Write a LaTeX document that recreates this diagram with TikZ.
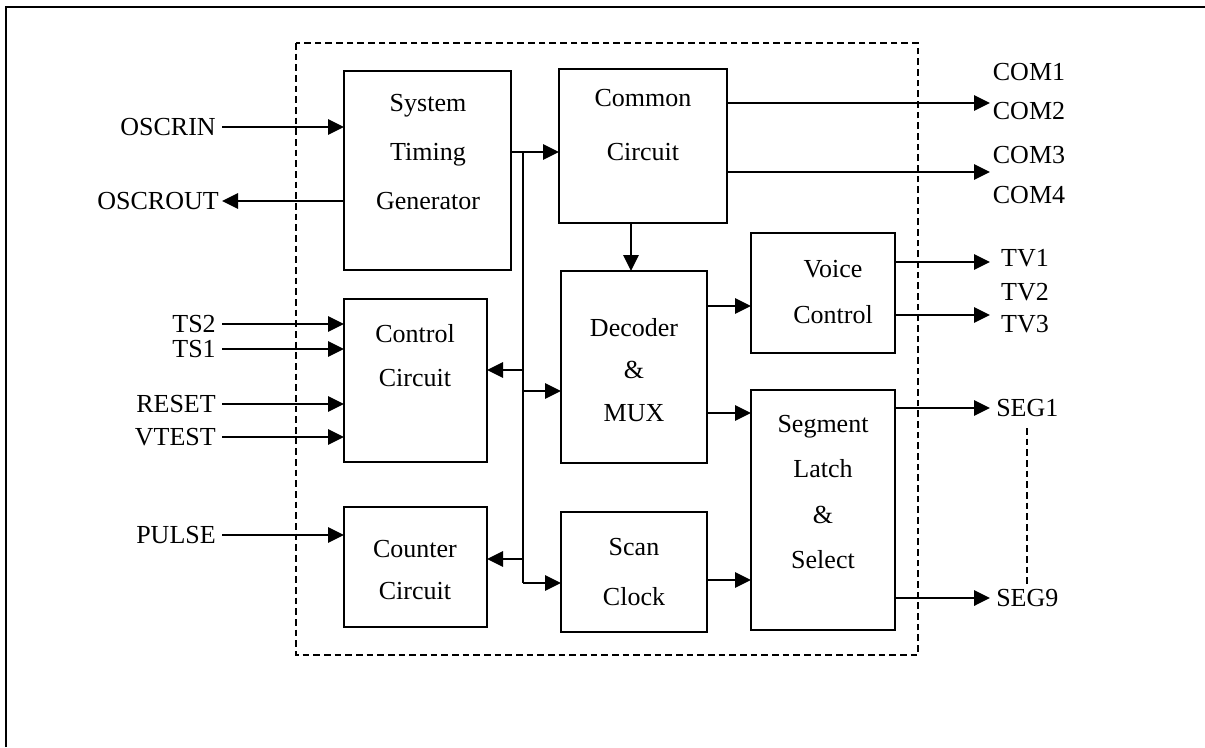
\documentclass[tikz,border=0pt]{standalone}
\usepackage{fontspec}
\setmainfont{Liberation Serif}
\usetikzlibrary{arrows.meta}
\begin{document}
\begin{tikzpicture}[x=0.75pt,y=-0.75pt,
  blk/.style={draw,line width=1.25pt,rectangle,inner sep=0pt,outer sep=0pt},
  txt/.style={align=center,inner sep=0pt,font=\fontsize{19.5}{#1}\selectfont},
  txt/.default=33pt,
  lbl/.style={inner sep=0pt,font=\fontsize{19.5}{24}\selectfont},
  arr/.style={line width=1.7pt,-{Triangle[length=12pt,width=11.5pt]}},
  ln/.style={line width=1.7pt},
  dsh/.style={line width=1.2pt,dash pattern=on 5pt off 3pt}]
\useasboundingbox (0,0) rectangle (1205,747);
% outer frame (top and left edges)
\draw[line width=1.6pt] (6,747) -- (6,7) -- (1205,7);
% dashed chip boundary
\draw[dsh] (296,43) rectangle (918,655);
% blocks
\node[blk,minimum width=125.25pt,minimum height=149.25pt] (stg) at (427.5,170.5) {};
\node[blk,minimum width=126pt,minimum height=115.5pt] (common) at (643,146) {};
\node[blk,minimum width=107.25pt,minimum height=122.25pt] (ctrl) at (415.5,380.5) {};
\node[blk,minimum width=107.25pt,minimum height=90pt] (counter) at (415.5,567) {};
\node[blk,minimum width=109.5pt,minimum height=144pt] (dec) at (634,367) {};
\node[blk,minimum width=109.5pt,minimum height=90pt] (scan) at (634,572) {};
\node[blk,minimum width=108pt,minimum height=90pt] (voice) at (823,293) {};
\node[blk,minimum width=108pt,minimum height=180pt] (seg) at (823,510) {};
% block texts
\node[txt=36.5pt] (stgT) at (428,152) {System\\Timing\\Generator};
\node[txt=40pt] (commonT) at (643,125) {Common\\Circuit};
\node[txt=33pt] (ctrlT) at (415,356) {Control\\Circuit};
\node[txt=31pt] (counterT) at (415,570) {Counter\\Circuit};
\node[txt=32pt] (decT) at (634,370) {Decoder\\\&\\MUX};
\node[txt=37pt] (scanT) at (634,572) {Scan\\Clock};
\node[txt=34pt] (voiceT) at (833,292) {Voice\\Control};
\node[txt=34pt] (segT) at (823,492) {Segment\\Latch\\\&\\Select};
% left labels
\node[lbl,anchor=east] (oscrin) at (216,127) {OSCRIN};
\node[lbl,anchor=east] (oscrout) at (219,201) {OSCROUT};
\node[lbl,anchor=east] (ts2) at (216,324) {TS2};
\node[lbl,anchor=east] (ts1) at (216,349) {TS1};
\node[lbl,anchor=east] (reset) at (216,404) {RESET};
\node[lbl,anchor=east] (vtest) at (216,437) {VTEST};
\node[lbl,anchor=east] (pulse) at (216,535) {PULSE};
% right labels
\node[lbl] (com1) at (1029,72) {COM1};
\node[lbl] (com2) at (1029,111) {COM2};
\node[lbl] (com3) at (1029,155) {COM3};
\node[lbl] (com4) at (1029,195) {COM4};
\node[lbl] (tv1) at (1025,258) {TV1};
\node[lbl] (tv2) at (1025,292) {TV2};
\node[lbl] (tv3) at (1025,324) {TV3};
\node[lbl,anchor=west] (seg1) at (996,408) {SEG1};
\node[lbl,anchor=west] (seg9) at (996,598) {SEG9};
% free ends
\coordinate (oscrinS) at (222,127);
\coordinate (oscroutE) at (222,201);
\coordinate (comA) at (990,103);
\coordinate (comB) at (990,172);
\coordinate (tvA) at (990,262);
\coordinate (tvB) at (990,315);
\coordinate (segA) at (990,408);
\coordinate (segB) at (990,598);
\coordinate (b0) at (523,152);
\coordinate (b1) at (523,583);
\coordinate (segdT) at (1027,428);
\coordinate (segdB) at (1027,585);
% inputs
\draw[arr] (oscrinS) -- (stg.west |- oscrinS);
\draw[arr] (stg.west |- oscroutE) -- (oscroutE);
\foreach \n/\yy in {ts2/324,ts1/349,reset/404,vtest/437}
  \draw[arr] (222,\yy) -- (ctrl.west |- 0,\yy);
\draw[arr] (222,535) -- (counter.west |- 0,535);
% internal bus
\draw[arr] (stg.east |- b0) -- (common.west |- b0);
\draw[ln] (b0) -- (b1);
\draw[arr] (b1) -- (scan.west |- b1);
\draw[arr] (523,370) -- (ctrl.east |- 0,370);
\draw[arr] (523,391) -- (dec.west |- 0,391);
\draw[arr] (523,559) -- (counter.east |- 0,559);
% block to block
\draw[arr] (common.south -| 631,0) -- (dec.north -| 631,0);
\draw[arr] (dec.east |- 0,306) -- (voice.west |- 0,306);
\draw[arr] (dec.east |- 0,413) -- (seg.west |- 0,413);
\draw[arr] (scan.east |- 0,580) -- (seg.west |- 0,580);
% outputs
\draw[arr] (common.east |- comA) -- (comA);
\draw[arr] (common.east |- comB) -- (comB);
\draw[arr] (voice.east |- tvA) -- (tvA);
\draw[arr] (voice.east |- tvB) -- (tvB);
\draw[arr] (seg.east |- segA) -- (segA);
\draw[arr] (seg.east |- segB) -- (segB);
\draw[dsh] (segdT) -- (segdB);
\end{tikzpicture}
\end{document}
